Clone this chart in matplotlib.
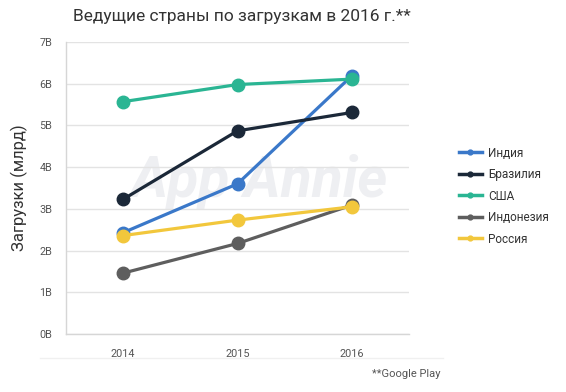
import matplotlib
matplotlib.use("Agg")
import matplotlib.pyplot as plt
from matplotlib.lines import Line2D

plt.rcParams['font.family'] = ['Roboto', 'DejaVu Sans']

years = ["2014", "2015", "2016"]
series_names = ["Индия", "Бразилия", "США", "Индонезия", "Россия"]
india = [2.43, 3.60, 6.19]
brazil = [3.23, 4.87, 5.31]
usa = [5.57, 5.98, 6.11]
indonesia = [1.46, 2.17, 3.09]
russia = [2.36, 2.73, 3.05]
colors = ["#3a78c9", "#1b2838", "#2ab593", "#5e5e5e", "#f2c73c"]
y_ticks = [0, 1, 2, 3, 4, 5, 6, 7]
y_tick_labels = ["0B", "1B", "2B", "3B", "4B", "5B", "6B", "7B"]

fig = plt.figure(figsize=(5.66, 3.92), dpi=100)
ax = fig.add_axes([66/566, 1-334/392, (409-66)/566, (334-42)/392])

x = list(range(len(years)))
for vals, name, c in zip([india, brazil, usa, indonesia, russia], series_names, colors):
    ax.plot(x, vals, color=c, lw=2.3, marker='o', markersize=9, solid_capstyle='round', label=name)

ax.set_xlim(-0.5, 2.5)
ax.set_ylim(0, 7)
ax.set_yticks(y_ticks)
ax.set_yticklabels(y_tick_labels)
ax.set_xticks(x)
ax.set_xticklabels(years)
ax.tick_params(length=0, labelsize=7.8, colors="#555555")
ax.tick_params(axis='x', pad=11)
ax.tick_params(axis='y', pad=10)
ax.grid(axis='y', color="#e3e3e3", lw=1)
ax.set_axisbelow(True)
for s in ['top', 'right']:
    ax.spines[s].set_visible(False)
for s in ['left', 'bottom']:
    ax.spines[s].set_color("#d6d6d6")
    ax.spines[s].set_linewidth(1)

# watermark
ax.text(1.19, 3.65, "App Annie", fontsize=41, style='italic', fontweight='bold',
        color="#eeeff2", ha='center', va='center', zorder=0)

ax.set_ylabel("Загрузки (млрд)", fontsize=12, color="#333333", labelpad=8)
fig.text(242/566, 1-17/392, "Ведущие страны по загрузкам в 2016 г.**", ha='center', va='center',
         fontsize=12.5, color="#333333")
fig.text(440/566, 1-374/392, "**Google Play", ha='right', va='center', fontsize=8, color="#555555")

# faint separator line under x labels
fig.add_artist(Line2D([40/566, 443/566], [1-358/392, 1-358/392], color="#f0f0f0", lw=1))

handles = [Line2D([], [], color=c, lw=2.5, marker='o', markersize=3.5) for c in colors]
fig.legend(handles, series_names, loc='upper left', bbox_to_anchor=(448/566, 1-136/392),
           frameon=False, fontsize=8.5, handlelength=2.0, handletextpad=0.5, labelspacing=0.72,
           labelcolor="#333333")

fig.savefig("out.png", dpi=100)
